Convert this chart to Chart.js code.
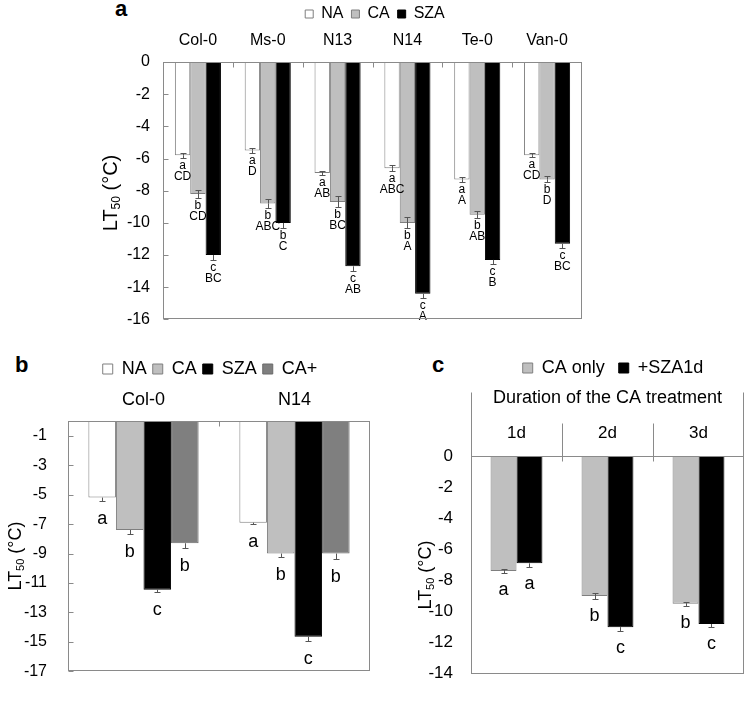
<!DOCTYPE html>
<html>
<head>
<meta charset="utf-8">
<script src="https://cdn.jsdelivr.net/npm/chart.js@4.4.1/dist/chart.umd.min.js"></script>
<style>
  html, body { margin: 0; padding: 0; background: #fff; width: 747px; height: 702px; overflow: hidden; }
  canvas { position: absolute; }
  .tag { position: absolute; font: bold 22px "Liberation Sans", Arial, sans-serif; line-height: 22px; color: #000; }
</style>
</head>
<body>
<div class="tag" style="left:115px;top:-2px">a</div>
<div class="tag" style="left:15px;top:354px">b</div>
<div class="tag" style="left:432px;top:354px">c</div>

<canvas id="chartA" width="630" height="344" style="left:60px;top:-2px"></canvas>
<canvas id="chartB" width="420" height="362" style="left:0px;top:340px"></canvas>
<canvas id="chartC" width="426" height="362" style="left:400px;top:340px"></canvas>

<script>
const FONT = '"Liberation Sans", Arial, Helvetica, sans-serif'

// panel a
const catsA = ['Col-0', 'Ms-0', 'N13', 'N14', 'Te-0', 'Van-0']
const naA = [-5.8, -5.5, -6.9, -6.6, -7.3, -5.8]
const caA = [-8.2, -8.8, -8.7, -10.0, -9.5, -7.3]
const szaA = [-12.0, -10.0, -12.7, -14.4, -12.3, -11.3]
const naErrA = [0.16, 0.15, 0.14, 0.17, 0.16, 0.12]
const caErrA = [0.26, 0.27, 0.34, 0.34, 0.22, 0.19]
const szaErrA = [0.28, 0.3, 0.3, 0.28, 0.26, 0.26]
const naLettersA = [['a', 'CD'], ['a', 'D'], ['a', 'AB'], ['a', 'ABC'], ['a', 'A'], ['a', 'CD']]
const caLettersA = [['b', 'CD'], ['b', 'ABC'], ['b', 'BC'], ['b', 'A'], ['b', 'AB'], ['b', 'D']]
const szaLettersA = [['c', 'BC'], ['b', 'C'], ['c', 'AB'], ['c', 'A'], ['c', 'B'], ['c', 'BC']]

// panel b
const catsB = ['Col-0', 'N14']
const naB = [-5.2, -6.9]
const caB = [-7.4, -9.0]
const szaB = [-11.45, -14.65]
const caPlusB = [-8.3, -9.0]
const naErrB = [0.2, 0.12]
const caErrB = [0.3, 0.2]
const szaErrB = [0.17, 0.3]
const caPlusErrB = [0.3, 0.35]
const naLettersB = [['a'], ['a']]
const caLettersB = [['b'], ['b']]
const szaLettersB = [['c'], ['c']]
const caPlusLettersB = [['b'], ['b']]
const yTicksB = [-1, -3, -5, -7, -9, -11, -13, -15, -17]

// panel c
const catsC = ['1d', '2d', '3d']
const caOnlyC = [-7.4, -9.0, -9.5]
const szaC = [-6.9, -11.0, -10.8]
const caOnlyErrC = [0.15, 0.2, 0.13]
const szaErrC = [0.25, 0.23, 0.2]
const caOnlyLettersC = [['a'], ['b'], ['b']]
const szaLettersC = [['a'], ['c'], ['c']]

const WHITE = '#ffffff', LIGHT = '#bfbfbf', BLACK = '#000000', DARK = '#7f7f7f', EDGE = '#7f7f7f'

// box, inner ticks, error bars, letters and the y title
const framePlugin = {
  id: 'frame',
  afterDatasetsDraw(chart, args, o) {
    const ctx = chart.ctx
    const a = chart.chartArea
    const x = chart.scales.x
    const y = chart.scales.y
    const L = Math.round(a.left) + 0.5
    const R = Math.round(a.right) - 0.5
    const T = Math.round(a.top) + 0.5
    const B = Math.round(a.bottom) - 0.5
    const seg = (x1, y1, x2, y2) => {
      ctx.beginPath()
      ctx.moveTo(x1, y1)
      ctx.lineTo(x2, y2)
      ctx.stroke()
    }
    ctx.save()
    ctx.lineWidth = 1

    // error bars + letters
    chart.data.datasets.forEach((ds, di) => {
      chart.getDatasetMeta(di).data.forEach((bar, i) => {
        const v = ds.data[i], e = ds.err[i]
        const cx = Math.round(bar.x) + 0.5
        const lo = Math.round(y.getPixelForValue(v - e)) + 0.5
        const end = y.getPixelForValue(v)
        ctx.strokeStyle = '#555'
        seg(cx, end, cx, lo)
        seg(cx - 3, lo, cx + 3, lo)
        if (o.bothSides && ds.backgroundColor !== BLACK) {
          const hi = Math.round(y.getPixelForValue(v + e)) + 0.5
          seg(cx, hi, cx, end)
          seg(cx - 3, hi, cx + 3, hi)
        }
        ctx.fillStyle = '#000'
        ctx.font = o.letterSize + 'px ' + FONT
        ctx.textAlign = 'center'
        ctx.textBaseline = 'alphabetic'
        ds.letters[i].forEach((s, k) => {
          ctx.fillText(s, bar.x, lo + o.letterGap + k * o.lineGap)
        })
      })
    })

    // frame
    ctx.strokeStyle = '#8a8a8a'
    ctx.strokeRect(L, T, R - L, B - T)
    y.ticks.forEach(t => {
      const p = Math.round(y.getPixelForValue(t.value)) + 0.5
      if (o.yTicks) seg(L, p, L + 5, p)
    })
    for (let i = 1; i < chart.data.labels.length; i++) {
      const p = Math.round((x.getPixelForTick(i - 1) + x.getPixelForTick(i)) / 2) + 0.5
      seg(p, T - (o.sepUp || 0), p, T + 5)
    }
    if (o.edgeUp) {
      seg(L, T - o.edgeUp, L, T)
      seg(R, T - o.edgeUp, R, T)
    }

    // LT50 (°C)
    const s = o.titleSize
    ctx.fillStyle = '#000'
    ctx.translate(o.titleX, o.titleY)
    ctx.rotate(-Math.PI / 2)
    ctx.textAlign = 'left'
    ctx.textBaseline = 'alphabetic'
    ctx.font = s + 'px ' + FONT
    const w1 = ctx.measureText('LT').width
    const w3 = ctx.measureText(' (°C)').width
    ctx.font = Math.round(s * 0.6) + 'px ' + FONT
    const w2 = ctx.measureText('50').width
    const x0 = -(w1 + w2 + w3) / 2
    const base = s * 0.358
    ctx.font = s + 'px ' + FONT
    ctx.fillText('LT', x0, base)
    ctx.fillText(' (°C)', x0 + w1 + w2, base)
    ctx.font = Math.round(s * 0.6) + 'px ' + FONT
    ctx.fillText('50', x0 + w1, base + s * 0.15)
    ctx.restore()
  }
}

function bars(label, data, err, letters, bg, border) {
  return { label, data, err, letters, backgroundColor: bg, borderColor: border, borderWidth: 1 }
}

function makeChart(id, o) {
  return new Chart(document.getElementById(id), {
    type: 'bar',
    data: { labels: o.labels, datasets: o.datasets },
    options: {
      responsive: false,
      animation: false,
      layout: { padding: { top: o.padTop, bottom: o.padBottom, left: 0, right: 0 } },
      datasets: { bar: { categoryPercentage: o.catPct, barPercentage: 1 } },
      plugins: {
        legend: {
          position: 'top',
          labels: {
            font: { family: FONT, size: o.legendSize },
            color: '#000',
            boxWidth: o.box,
            boxHeight: o.box,
            padding: o.legendPad
          }
        },
        tooltip: { enabled: false },
        frame: o.frame
      },
      scales: {
        x: {
          position: 'top',
          grid: { display: false, drawTicks: false },
          border: { display: false },
          ticks: { font: { family: FONT, size: o.catSize }, color: '#000', padding: o.catPad },
          title: o.xTitle
            ? { display: true, text: o.xTitle, color: '#000', font: { family: FONT, size: 18 }, padding: { top: 0, bottom: 0 } }
            : { display: false },
          afterFit: s => { s.height = o.xH }
        },
        y: {
          min: o.min,
          max: 0,
          ticks: { stepSize: 2, font: { family: FONT, size: o.tickSize }, color: '#000', padding: o.tickPad },
          grid: { display: false, drawTicks: false },
          border: { display: false },
          afterBuildTicks: o.yTicks ? s => { s.ticks = o.yTicks.map(v => ({ value: v })) } : undefined,
          afterFit: s => { s.width = o.yW }
        },
        yR: {
          position: 'right',
          ticks: { display: false },
          grid: { display: false, drawTicks: false },
          border: { display: false },
          afterFit: s => { s.width = o.rW }
        }
      }
    },
    plugins: [framePlugin]
  })
}

makeChart('chartA', {
  labels: catsA,
  datasets: [
    bars('NA', naA, naErrA, naLettersA, WHITE, EDGE),
    bars('CA', caA, caErrA, caLettersA, LIGHT, EDGE),
    bars('SZA', szaA, szaErrA, szaLettersA, BLACK, BLACK)
  ],
  padTop: 0, padBottom: 13, catPct: 0.66,
  legendSize: 16, box: 8, legendPad: 8,
  catSize: 16, catPad: 12, xH: 30,
  min: -16, tickSize: 16, tickPad: 13, yW: 103, rW: 108,
  frame: { bothSides: true, yTicks: true, letterSize: 12, letterGap: 10, lineGap: 11.5,
           titleSize: 20, titleX: 50, titleY: 195 }
})

makeChart('chartB', {
  labels: catsB,
  datasets: [
    bars('NA', naB, naErrB, naLettersB, WHITE, EDGE),
    bars('CA', caB, caErrB, caLettersB, LIGHT, EDGE),
    bars('SZA', szaB, szaErrB, szaLettersB, BLACK, BLACK),
    bars('CA+', caPlusB, caPlusErrB, caPlusLettersB, DARK, '#6a6a6a')
  ],
  padTop: 14, padBottom: 13, catPct: 0.73,
  legendSize: 18, box: 10, legendPad: 6,
  catSize: 18, catPad: 10, xH: 33,
  min: -17, yTicks: yTicksB, tickSize: 16, tickPad: 21, yW: 68, rW: 50,
  frame: { bothSides: false, yTicks: true, letterSize: 18, letterGap: 22, lineGap: 0,
           titleSize: 18, titleX: 15, titleY: 216 }
})

makeChart('chartC', {
  labels: catsC,
  datasets: [
    bars('CA only', caOnlyC, caOnlyErrC, caOnlyLettersC, LIGHT, EDGE),
    bars('+SZA1d', szaC, szaErrC, szaLettersC, BLACK, BLACK)
  ],
  padTop: 5, padBottom: 7, catPct: 0.57,
  legendSize: 18, box: 10, legendPad: 14,
  catSize: 17, catPad: 12, xH: 69, xTitle: 'Duration of the CA treatment',
  min: -14, tickSize: 17, tickPad: 18, yW: 71, rW: 82,
  frame: { bothSides: true, yTicks: false, sepUp: 33, edgeUp: 64, letterSize: 18, letterGap: 21, lineGap: 0,
           titleSize: 18, titleX: 25, titleY: 235 }
})
</script>
</body>
</html>
